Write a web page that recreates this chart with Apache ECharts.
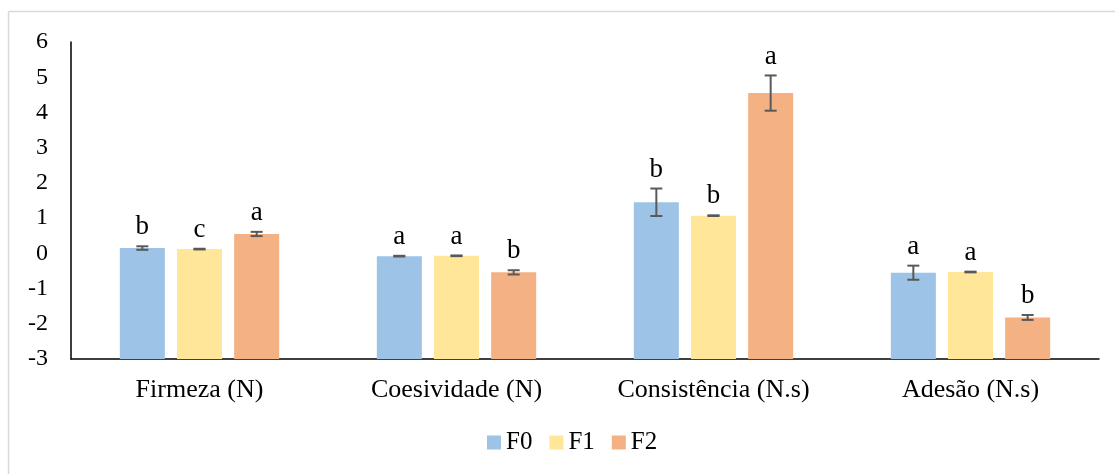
<!DOCTYPE html>
<html><head><meta charset="utf-8">
<script src="https://cdn.jsdelivr.net/npm/echarts@6/dist/echarts.min.js"></script>
<style>html,body{margin:0;padding:0;background:#fff}#c{width:1115px;height:474px}</style>
</head><body><div id="c"></div>
<script>
const categories = ['Firmeza (N)', 'Coesividade (N)', 'Consistência (N.s)', 'Adesão (N.s)'];
const seriesNames = ['F0', 'F1', 'F2'];
const f0Values = [0.15, -0.08, 1.45, -0.55];
const f1Values = [0.12, -0.07, 1.07, -0.53];
const f2Values = [0.55, -0.54, 4.55, -1.82];
const f0Errors = [0.05, 0.01, 0.39, 0.20];
const f1Errors = [0.01, 0.01, 0.01, 0.01];
const f2Errors = [0.06, 0.06, 0.50, 0.07];
const f0Letters = ['b', 'a', 'b', 'a'];
const f1Letters = ['c', 'a', 'b', 'a'];
const f2Letters = ['a', 'b', 'a', 'b'];
const yMin = -3, yMax = 6, yInterval = 1;

const values = [f0Values, f1Values, f2Values];
const errors = [f0Errors, f1Errors, f2Errors];
const letters = [f0Letters, f1Letters, f2Letters];
const colors = ['#9dc3e6', '#ffe699', '#f4b183'];
const FONT = 'Liberation Serif';
const CAT_GAP = 0.38, BAR_GAP = 0.27;

const series = [];
values.forEach((vals, k) => {
  series.push({
    type: 'bar', stack: 's' + k, stackStrategy: 'all', silent: true,
    barCategoryGap: (CAT_GAP * 100) + '%', barGap: (BAR_GAP * 100) + '%',
    data: vals.map(() => yMin), itemStyle: { color: 'rgba(0,0,0,0)' }
  });
  series.push({
    name: seriesNames[k], type: 'bar', stack: 's' + k, stackStrategy: 'all',
    barCategoryGap: (CAT_GAP * 100) + '%', barGap: (BAR_GAP * 100) + '%',
    data: vals.map(v => v - yMin), itemStyle: { color: colors[k] }
  });
});
values.forEach((vals, k) => {
  series.push({
    type: 'custom', z: 10, silent: true,
    data: vals.map((v, i) => [i, v, errors[k][i]]),
    renderItem: function (params, api) {
      const ci = api.value(0), v = api.value(1), e = api.value(2);
      const c = api.coord([ci, v]);
      const W = api.size([1, 0])[0];
      const bw = W * (1 - CAT_GAP) / (3 + 2 * BAR_GAP);
      const x = c[0] + (k - 1) * bw * (1 + BAR_GAP);
      const top = api.coord([ci, v + e])[1];
      const bot = api.coord([ci, v - e])[1];
      const cap = 6;
      const st = { stroke: '#595959', lineWidth: 2 };
      return {
        type: 'group', children: [
          { type: 'line', shape: { x1: x, y1: top, x2: x, y2: bot }, style: st },
          { type: 'line', shape: { x1: x - cap, y1: top, x2: x + cap, y2: top }, style: st },
          { type: 'line', shape: { x1: x - cap, y1: bot, x2: x + cap, y2: bot }, style: st },
          { type: 'text', x: x, y: top - 19, style: {
              text: letters[k][params.dataIndex], fill: '#000', font: '27px "' + FONT + '"',
              textAlign: 'center', textVerticalAlign: 'middle' } }
        ]
      };
    }
  });
});

const chart = echarts.init(document.getElementById('c'), null, { renderer: 'canvas' });
chart.setOption({
  animation: false,
  backgroundColor: '#fff',
  textStyle: { fontFamily: FONT },
  grid: { left: 71, right: 16, top: 42, bottom: 115 },
  legend: {
    data: seriesNames, left: 487, top: 430, padding: 0,
    itemWidth: 14, itemHeight: 14, itemGap: 17, icon: 'rect',
    textStyle: { fontFamily: FONT, fontSize: 25, color: '#000' }
  },
  xAxis: {
    type: 'category', data: categories,
    axisLine: { onZero: false, lineStyle: { color: '#000', width: 1.5 } },
    axisTick: { show: false },
    axisLabel: { interval: 0, fontFamily: FONT, fontSize: 26, color: '#000', margin: 18 }
  },
  yAxis: {
    type: 'value', min: yMin, max: yMax, interval: yInterval,
    splitLine: { show: false },
    axisLine: { show: true, lineStyle: { color: '#000', width: 1.5 } },
    axisTick: { show: false },
    axisLabel: { fontFamily: FONT, fontSize: 24, color: '#000', margin: 23 }
  },
  graphic: [
    { type: 'line', shape: { x1: 8.5, y1: 11.5, x2: 1115, y2: 11.5 }, style: { stroke: '#d9d9d9', lineWidth: 1.5 } },
    { type: 'line', shape: { x1: 8.5, y1: 11.5, x2: 8.5, y2: 474 }, style: { stroke: '#d9d9d9', lineWidth: 1.5 } }
  ],
  series: series
});
</script></body></html>
